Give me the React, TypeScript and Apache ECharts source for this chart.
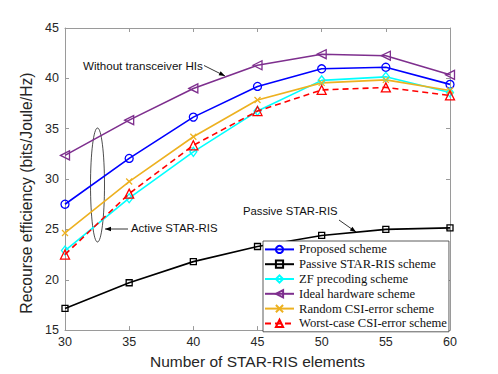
import React, { useEffect, useRef } from "react";
import * as echarts from "echarts";

const elements = [30, 35, 40, 45, 50, 55, 60];
const proposed = [27.5, 32.05, 36.15, 39.2, 40.95, 41.1, 39.4];
const passive = [17.15, 19.7, 21.8, 23.3, 24.4, 25.0, 25.15];
const zfPrecoding = [22.9, 28.1, 32.7, 36.75, 39.8, 40.15, 38.6];
const idealHardware = [32.35, 35.85, 39.0, 41.3, 42.4, 42.25, 40.35];
const randomCsi = [24.65, 29.75, 34.2, 37.85, 39.55, 39.85, 38.8];
const worstCsi = [22.5, 28.55, 33.35, 36.75, 38.85, 39.1, 38.3];

const seriesNames = [
  "Proposed scheme",
  "Passive STAR-RIS scheme",
  "ZF precoding scheme",
  "Ideal hardware scheme",
  "Random CSI-error scheme",
  "Worst-case CSI-error scheme",
];

const xTitle = "Number of STAR-RIS elements";
const yTitle = "Recourse efficiency (bits/Joule/Hz)";

const SANS = "'Liberation Sans', Arial, Helvetica, sans-serif";
const SERIF = "'Liberation Serif', 'Times New Roman', serif";
const AXIS_GRAY = "#9a9a9a";
const LABEL_COLOR = "#262626";

function pairs(vals: number[]) {
  return elements.map((x, i) => [x, vals[i]]);
}

function mk(
  name: string,
  vals: number[],
  color: string,
  symbol: string,
  size: number | number[],
  extra: any = {}
) {
  return {
    name,
    type: "line",
    data: pairs(vals),
    symbol,
    symbolSize: size,
    showSymbol: true,
    lineStyle: { color, width: 1.6, type: extra.dash ? [6, 4] : "solid" },
    itemStyle: { color: "transparent", borderColor: color, borderWidth: 1.3 },
    symbolRotate: extra.rotate || 0,
    emphasis: { disabled: true },
    z: extra.z || 2,
  };
}

function arrowHead(tx: number, ty: number, fx: number, fy: number, len = 6, half = 2.3) {
  const dx = tx - fx;
  const dy = ty - fy;
  const l = Math.sqrt(dx * dx + dy * dy);
  const ux = dx / l;
  const uy = dy / l;
  const bx = tx - ux * len;
  const by = ty - uy * len;
  const nx = -uy * half;
  const ny = ux * half;
  return {
    type: "polygon",
    shape: { points: [[tx, ty], [bx + nx, by + ny], [bx - nx, by - ny]] },
    style: { fill: "#000" },
    silent: true,
  };
}

export default function App() {
  const ref = useRef<HTMLDivElement>(null);
  useEffect(() => {
    if (!ref.current) return;
    const chart = echarts.init(ref.current, null, { renderer: "svg" });
    const axisCommon = {
      type: "value",
      min: 30,
      max: 60,
      interval: 5,
      splitLine: { show: false },
      axisLine: { show: true, lineStyle: { color: AXIS_GRAY, width: 1 } },
      axisTick: { show: true, inside: true, length: 4, lineStyle: { color: AXIS_GRAY } },
    };
    const yCommon = {
      type: "value",
      min: 15,
      max: 45,
      interval: 5,
      splitLine: { show: false },
      axisLine: { show: true, lineStyle: { color: AXIS_GRAY, width: 1 } },
      axisTick: { show: true, inside: true, length: 4, lineStyle: { color: AXIS_GRAY } },
    };
    chart.setOption({
      animation: false,
      backgroundColor: "#fff",
      grid: { left: 65, right: 48, top: 28, bottom: 41, containLabel: false },
      xAxis: [
        {
          ...axisCommon,
          position: "bottom",
          name: xTitle,
          nameLocation: "middle",
          nameGap: 22,
          nameTextStyle: { fontFamily: SANS, fontSize: 15.5, color: LABEL_COLOR },
          axisLabel: { fontFamily: SANS, fontSize: 12.5, color: LABEL_COLOR, margin: 5 },
        },
        { ...axisCommon, position: "top", axisLabel: { show: false } },
      ],
      yAxis: [
        {
          ...yCommon,
          position: "left",
          name: yTitle,
          nameLocation: "middle",
          nameGap: 30,
          nameTextStyle: {
            fontFamily: SANS,
            fontSize: 15.7,
            color: LABEL_COLOR,
            padding: [0, 28, 0, 0],
          },
          axisLabel: { fontFamily: SANS, fontSize: 12.5, color: LABEL_COLOR, margin: 6 },
        },
        { ...yCommon, position: "right", axisLabel: { show: false } },
      ],
      legend: {
        orient: "vertical",
        left: 263,
        top: 241,
        data: seriesNames,
        itemWidth: 29,
        itemHeight: 9,
        itemGap: 0,
        padding: [1, 2, 1, 1],
        backgroundColor: "#fff",
        borderColor: "#333",
        borderWidth: 0.8,
        selectedMode: false,
        textStyle: {
          fontFamily: SERIF,
          fontSize: 12.6,
          color: "#111",
          lineHeight: 14.8,
        },
        z: 10,
      },
      series: [
        mk(seriesNames[0], proposed, "#0000ff", "circle", 8),
        mk(seriesNames[1], passive, "#000000", "rect", 6),
        mk(seriesNames[2], zfPrecoding, "#00ffff", "diamond", [7, 9]),
        mk(seriesNames[3], idealHardware, "#7e2f8e", "triangle", 9, { rotate: 90 }),
        mk(seriesNames[4], randomCsi, "#edb120", "path://M0,0L10,10M10,0L0,10", 6),
        mk(seriesNames[5], worstCsi, "#ff0000", "triangle", 9, { dash: true, z: 3 }),
      ],
      graphic: [
        {
          type: "text",
          left: 83,
          top: 59,
          style: { text: "Without transceiver HIs", font: `11.6px ${SANS}`, fill: "#111" },
          silent: true,
        },
        {
          type: "line",
          shape: { x1: 204, y1: 65.5, x2: 225, y2: 76 },
          style: { stroke: "#000", lineWidth: 0.8 },
          silent: true,
        },
        arrowHead(225, 76, 204, 65.5),
        {
          type: "ellipse",
          shape: { cx: 97.5, cy: 185, rx: 7, ry: 57 },
          style: { stroke: "#000", fill: "none", lineWidth: 0.7 },
          silent: true,
        },
        {
          type: "text",
          left: 131,
          top: 222.5,
          style: { text: "Active STAR-RIS", font: `11.4px ${SANS}`, fill: "#111" },
          silent: true,
        },
        {
          type: "line",
          shape: { x1: 128, y1: 229, x2: 105, y2: 229 },
          style: { stroke: "#000", lineWidth: 0.8 },
          silent: true,
        },
        arrowHead(105, 229, 128, 229),
        {
          type: "text",
          left: 243,
          top: 205,
          style: { text: "Passive STAR-RIS", font: `11.3px ${SANS}`, fill: "#111" },
          silent: true,
        },
        {
          type: "line",
          shape: { x1: 339, y1: 220, x2: 356, y2: 232 },
          style: { stroke: "#000", lineWidth: 0.8 },
          silent: true,
        },
        arrowHead(356, 232, 339, 220),
      ],
    });
    return () => chart.dispose();
  }, []);
  return (
    <div
      ref={ref}
      style={{ position: "fixed", left: 0, top: 0, width: 498, height: 374, background: "#fff" }}
    />
  );
}
